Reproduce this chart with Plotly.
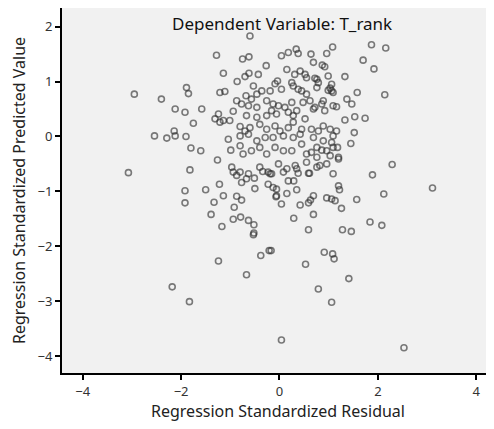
import plotly.graph_objects as go

# Regression standardized residual (x) and standardized predicted value (y)
residual = [
    # upper cluster
    -1.28, -0.75, -0.62, 0.04, 0.18, 0.34, 0.38, 0.64, 0.96, 1.08,
    -1.14, -0.86, -0.62, -0.43, -0.27, -0.70, 0.15, 0.31, 0.42, 0.52, 0.69, 0.87, 0.92, 0.99, 0.76, 0.55,
    -0.53, -0.46, -0.36, -0.09, -0.04, -0.19, 0.04, 0.25, 0.28, 0.38, 0.45, 0.55, 0.76, 0.99, 1.09, 1.06,
    -1.89, -1.85, -1.21, -1.11, -0.68,
    -2.40, -0.87, -0.77, -0.94, -0.63, -0.57, -0.46, -0.26, -0.13, -0.16, -0.02, 0.11, 0.25, 0.35, 0.48,
    0.62, 0.72, 0.86, 0.92, 1.09, -2.12, -1.92, -1.58, -0.67, -0.46, -0.26, -0.06, 0.18, 0.28, 0.52,
    -1.31, -1.21, -1.01, -0.80, -0.70, -0.60, -0.40, -0.26, -0.09, 0.01, 0.18, 0.28, 0.45, 0.65, 0.79,
    0.89, 1.03, 1.16, -1.75, -2.29, -2.14, -2.12, -1.90, -1.04, -0.80, -0.63, -0.46, -0.29, -0.13, 0.08,
    0.28, 0.42, 0.69, 0.89, 1.09,
    -0.99, -0.80, -0.74, -0.57, -0.40, -0.26, -0.09, 0.08, 0.25, 0.45, 0.55, 0.76, 0.96, 1.09, 1.20,
    -1.80, -1.60, -1.26, -1.82, -0.97, -0.80, -0.63, -0.40, -0.23, -0.02, 0.15, 0.32, 0.55, 0.76, 0.96, 1.09,
    # extra left / top
    -0.60, -2.95, -2.54, -3.07, -1.24, -1.14,
    # right side
    1.87, 2.16, 1.70, 1.92, 1.33, 1.58, 2.14, 1.37, 1.47, 1.16, 1.33, 1.53, 1.74, 1.52, 1.45, 1.18, 1.20,
    2.29, 1.89,
    0.72, 0.79, 1.03, 1.06, 0.89, 0.69, 1.06, 0.86, 0.65, 1.03, 0.82, 0.76, 0.59, 0.35,
    # lower right
    3.11, 2.12, 1.20, 1.22, 1.57, 1.26, 0.96, 1.06, 1.13, 0.69, 0.63, 0.59, 0.42, 0.04, 0.69, 0.29,
    1.84, 2.08, 0.59, 1.28, 1.46, -0.17, 0.91, 1.08, 1.11, 0.53, 1.41, 0.79, 1.06, 0.04, 2.53,
    -0.19, 0.08, 0.38, 0.61, 0.18, 0.29, 0.35, 0.15, -0.06, -0.13, -0.07,
    # lower left
    -1.92, -1.92, -1.50, -1.22, -1.14, -1.33, -1.39, -1.17, -0.87, -0.77, -0.92,
    -0.94, -0.79, -0.63, -0.52, -0.52, -0.53,
    -0.51, -0.50, -0.67, -0.77, -0.87, -0.94, -0.34, -0.16, -0.23, -0.06,
    -0.38, -0.21, -1.24, -0.67, -2.18, -1.83,
]
predicted = [
    1.48, 1.41, 1.45, 1.47, 1.53, 1.59, 1.51, 1.50, 1.51, 1.63,
    1.15, 1.00, 1.15, 1.13, 1.29, 1.09, 1.22, 1.13, 1.19, 1.13, 1.35, 1.30, 1.27, 1.10, 1.04, 1.07,
    0.92, 0.77, 0.83, 0.96, 1.01, 0.83, 0.86, 0.98, 0.92, 0.86, 0.83, 0.77, 0.89, 0.84, 0.80, 0.95,
    0.89, 0.78, 0.80, 0.82, 0.74,
    0.68, 0.65, 0.59, 0.46, 0.56, 0.68, 0.53, 0.65, 0.59, 0.47, 0.56, 0.53, 0.62, 0.47, 0.62,
    0.65, 0.53, 0.59, 0.47, 0.56, 0.50, 0.44, 0.50, 0.38, 0.35, 0.38, 0.41, 0.44, 0.38, 0.32,
    0.32, 0.26, 0.29, 0.18, 0.10, 0.16, 0.22, 0.13, 0.19, 0.10, 0.16, 0.26, 0.13, 0.13, 0.10,
    0.19, 0.13, 0.10, 0.24, -0.03, 0.10, 0.01, 0.00, -0.05, 0.01, 0.04, -0.08, -0.02, -0.02, 0.01,
    -0.02, 0.04, -0.02, -0.08, 0.01,
    -0.25, -0.17, -0.32, -0.26, -0.20, -0.32, -0.20, -0.26, -0.26, -0.14, -0.32, -0.20, -0.26, -0.20, -0.38,
    -0.21, -0.26, -0.43, -0.61, -0.56, -0.65, -0.68, -0.56, -0.65, -0.50, -0.59, -0.53, -0.47, -0.56, -0.50, -0.68,
    1.83, 0.77, 0.01, -0.66, 0.41, 0.29,
    1.67, 1.61, 1.39, 1.23, 1.09, 0.80, 0.76, 0.68, 0.59, 0.54, 0.30, 0.36, 0.33, 0.07, -0.13, -0.20, -0.41,
    -0.51, -0.70,
    1.06, 0.98, 0.88, 0.83, 0.65, 0.50, -0.11, -0.25, -0.29, -0.35, -0.53, -0.38, -0.67, -0.59,
    -0.94, -1.05, -0.90, -0.97, -1.15, -1.31, -1.12, -1.14, -1.17, -1.08, -1.16, -1.21, -1.25, -1.23, -1.42, -1.49,
    -1.56, -1.62, -1.70, -1.70, -1.73, -2.08, -2.11, -2.14, -2.23, -2.33, -2.59, -2.78, -3.02, -3.71, -3.85,
    -0.68, -0.65, -0.67, -0.67, -0.81, -0.81, -0.97, -1.04, -0.96, -0.93, -1.10,
    -0.99, -1.21, -0.97, -0.87, -1.08, -1.20, -1.42, -1.64, -1.09, -1.16, -1.29,
    -1.51, -1.47, -1.53, -1.61, -1.76, -1.79,
    -0.76, -0.95, -0.77, -0.84, -0.71, -0.65, -0.64, -0.68, -0.87, -1.08,
    -2.17, -2.08, -2.27, -2.52, -2.74, -3.01,
]

x_ticks = [-4, -2, 0, 2, 4]
y_ticks = [-4, -3, -2, -1, 0, 1, 2]

title_text = "Dependent Variable: T_rank"
x_title = "Regression Standardized Residual"
y_title = "Regression Standardized Predicted Value"

font_family = "Noto Sans, Open Sans, DejaVu Sans, sans-serif"

fig = go.Figure()
fig.add_trace(go.Scatter(
    x=residual, y=predicted, mode="markers",
    marker=dict(symbol="circle-open", size=6, color="rgba(45,45,45,0.62)",
                line=dict(width=1.6, color="rgba(45,45,45,0.62)")),
    hoverinfo="x+y", showlegend=False,
))

fig.add_annotation(
    text=title_text, xref="x", yref="paper", x=0.05, y=0.995,
    xanchor="center", yanchor="top", showarrow=False,
    font=dict(family=font_family, size=17, color="#111"),
)

axis_common = dict(
    showline=True, linecolor="black", linewidth=2,
    ticks="outside", ticklen=5, tickwidth=2, tickcolor="black",
    showgrid=False, zeroline=False, automargin=False,
    tickfont=dict(family=font_family, size=13, color="#333"),
)

# page body adds an 8px offset, so the figure is sized to fit the window
fig.update_layout(
    width=486, height=421,
    margin=dict(l=54, r=0, t=0, b=56, autoexpand=False),
    paper_bgcolor="white", plot_bgcolor="#f1f1f1",
    font=dict(family=font_family),
    xaxis=dict(range=[-4.42, 4.36], tickvals=x_ticks, mirror=True,
               title=dict(text=x_title, font=dict(family=font_family, size=16, color="#222"), standoff=4),
               **axis_common),
    yaxis=dict(range=[-4.31, 2.34], tickvals=y_ticks,
               title=dict(text=y_title, font=dict(family=font_family, size=16, color="#222"), standoff=9),
               **axis_common),
)

fig.write_html("out.html")
